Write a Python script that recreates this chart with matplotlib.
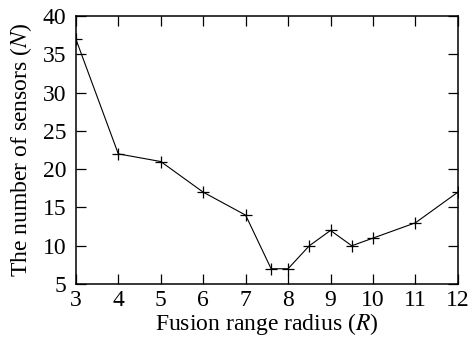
import matplotlib
matplotlib.use("Agg")
import matplotlib.pyplot as plt

radius = [3, 4, 5, 6, 7, 7.6, 8, 8.5, 9, 9.5, 10, 11, 12]
sensors = [37, 22, 21, 17, 14, 7, 7, 10, 12, 10, 11, 13, 17]

plt.rcParams['font.family'] = ['Liberation Serif', 'DejaVu Serif']
plt.rcParams['mathtext.fontset'] = 'stix'

fig = plt.figure(figsize=(4.74, 3.41), dpi=100)
ax = fig.add_axes([0.160, 0.167, 0.806, 0.786])

ax.plot(radius, sensors, color='k', lw=0.8, marker='+', ms=9, mew=0.9)

ax.set_xlim(3, 12)
ax.set_ylim(5, 40)
ax.set_xticks(range(3, 13))
ax.set_yticks(range(5, 41, 5))
ax.tick_params(direction='in', top=True, right=True, length=7, width=0.9,
               labelsize=17)
ax.tick_params(axis='x', pad=4)
ax.tick_params(axis='y', pad=7)
for s in ax.spines.values():
    s.set_linewidth(1.1)

ax.set_xlabel("Fusion range radius ($R$)", fontsize=17, labelpad=0)
ax.set_ylabel("The number of sensors ($N$)", fontsize=17, labelpad=6)

fig.savefig("out.png", dpi=100)
